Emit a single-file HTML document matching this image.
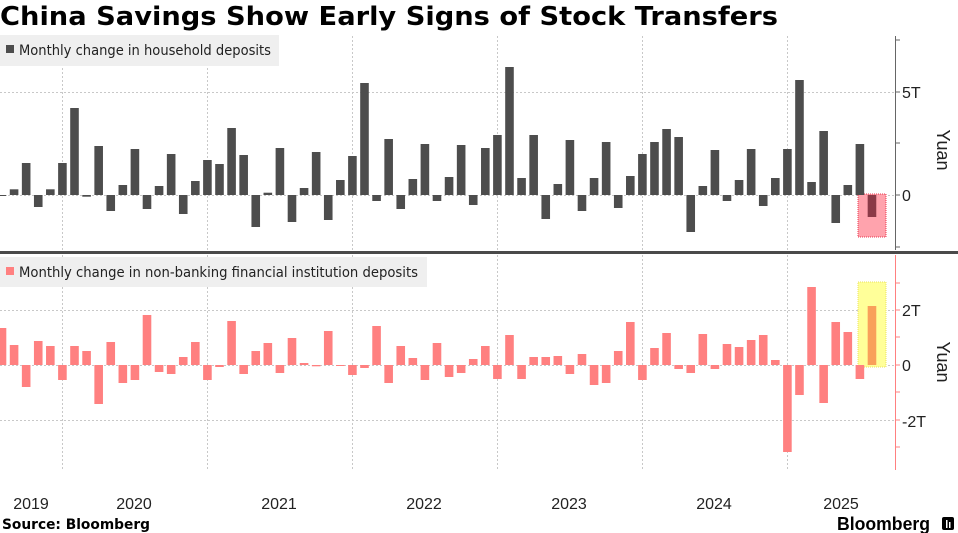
<!DOCTYPE html>
<html><head><meta charset="utf-8">
<style>
html,body{margin:0;padding:0;background:#fff;width:958px;height:533px;overflow:hidden}
svg{display:block;font-family:"Liberation Sans",sans-serif}
</style></head>
<body>
<svg id="c" width="958" height="533" viewBox="0 0 958 533" xmlns="http://www.w3.org/2000/svg">
<text x="0" y="25" font-size="26" font-weight="bold" fill="#000" font-family="DejaVu Sans, sans-serif" textLength="778" lengthAdjust="spacingAndGlyphs">China Savings Show Early Signs of Stock Transfers</text>
<g id="grid" stroke="#c8c8c8" stroke-width="1" stroke-dasharray="2,2"></g>
<g id="topg"></g>
<g id="botg"></g>
<rect x="0" y="35" width="279" height="31" fill="#efefef"/>
<rect x="6" y="45" width="8" height="8" fill="#4d4d4d"/>
<text x="19" y="55" font-size="14" fill="#222" font-family="DejaVu Sans, sans-serif" textLength="252" lengthAdjust="spacingAndGlyphs">Monthly change in household deposits</text>
<rect x="0" y="257" width="427" height="30" fill="#efefef"/>
<rect x="6" y="267" width="8" height="8" fill="#ff8080"/>
<text x="19" y="277" font-size="14" fill="#222" font-family="DejaVu Sans, sans-serif" textLength="399" lengthAdjust="spacingAndGlyphs">Monthly change in non-banking financial institution deposits</text>
<rect x="0" y="251" width="958" height="3" fill="#4a4a4a"/>
<line x1="895.5" y1="36" x2="895.5" y2="250" stroke="#666" stroke-width="1"/>
<g stroke="#666"><line x1="895" y1="92" x2="900" y2="92"/><line x1="895" y1="143" x2="900" y2="143"/><line x1="895" y1="195" x2="900" y2="195"/><line x1="895" y1="247" x2="900" y2="247"/><line x1="895" y1="40" x2="900" y2="40"/></g>
<text x="902" y="98" font-size="16" fill="#222">5T</text>
<text x="902" y="201" font-size="16" fill="#222">0</text>
<text transform="translate(937,150) rotate(90)" text-anchor="middle" font-size="18" fill="#222">Yuan</text>
<line x1="895.5" y1="255" x2="895.5" y2="470" stroke="#ff8080" stroke-width="1"/>
<g stroke="#ff8080"><line x1="895" y1="310" x2="900" y2="310"/><line x1="895" y1="365" x2="900" y2="365"/><line x1="895" y1="420" x2="900" y2="420"/><line x1="895" y1="337" x2="900" y2="337"/><line x1="895" y1="392" x2="900" y2="392"/><line x1="895" y1="283" x2="900" y2="283"/><line x1="895" y1="447" x2="900" y2="447"/></g>
<text x="902" y="316" font-size="16" fill="#222">2T</text>
<text x="902" y="371" font-size="16" fill="#222">0</text>
<text x="902" y="427" font-size="16" fill="#222">-2T</text>
<text transform="translate(937,362) rotate(90)" text-anchor="middle" font-size="18" fill="#222">Yuan</text>
<g font-size="16" fill="#222" text-anchor="middle">
<text x="31" y="509">2019</text>
<text x="134" y="509">2020</text>
<text x="279" y="509">2021</text>
<text x="424" y="509">2022</text>
<text x="569" y="509">2023</text>
<text x="714" y="509">2024</text>
<text x="841" y="509">2025</text>
</g>
<text x="2" y="529" font-size="14" font-weight="bold" fill="#000" font-family="DejaVu Sans, sans-serif" textLength="148" lengthAdjust="spacingAndGlyphs">Source: Bloomberg</text>
<text x="837" y="530" font-size="18" font-weight="bold" fill="#000" textLength="93" lengthAdjust="spacingAndGlyphs">Bloomberg</text>
<rect x="942" y="517" width="12" height="13" rx="2" fill="#000"/>
<rect x="946" y="520" width="1.5" height="8" fill="#fff"/><rect x="949" y="522" width="1.5" height="6" fill="#fff"/>
</svg>
<script>
var NS="http://www.w3.org/2000/svg";
function el(p,t,a){var e=document.createElementNS(NS,t);for(var k in a)e.setAttribute(k,a[k]);p.appendChild(e);return e;}
var g=document.getElementById('grid');
[62,207,352,497,642,787].forEach(function(x){el(g,'line',{x1:x+.5,y1:36,x2:x+.5,y2:250});el(g,'line',{x1:x+.5,y1:255,x2:x+.5,y2:470});});
[92,195].forEach(function(y){el(g,'line',{x1:0,y1:y+.5,x2:895,y2:y+.5});});
[310,365,420].forEach(function(y){el(g,'line',{x1:0,y1:y+.5,x2:895,y2:y+.5});});
var tv=[-1,5.7,32,-12,5.7,32,87,-1.7,49,-16,10,46,-14,9,41,-19,14,35,31,67,40,-32,2.3,47,-27,7,43,-25,15,39,112,-6,56,-14,16,51,-6,18,50,-10,47,60,128,17,60,-24,11,55,-16,17,53,-13,19,41,53,66,58,-37,9,45,-6,15,46,-11,17,46,115,13,64,-28,10,51,-22];
var bv=[37,20,-22,24,19,-15,19,14,-39,23,-18,-15,50,-7,-9,8,23,-15,-2,44,-9,14,22,-8,27,2,-1.3,34,-0.5,-10,-3,39,-18,19,7,-15,22,-12,-8,6,19,-14,30,-14,8,8,9,-9,11,-20,-18,14,43,-15,17,32,-4,-8,31,-4,21,18,25,30,5,-87,-30,78,-38,43,33,-14,59];
var tg=document.getElementById('topg'),bg=document.getElementById('botg');
el(tg,'rect',{x:858,y:194,width:28,height:43,fill:'#ffa3ad',stroke:'#e8394f','stroke-width':1,'stroke-dasharray':'1,1'});
el(bg,'rect',{x:858,y:282,width:28,height:85,fill:'#ffff99',stroke:'#e8e060','stroke-width':1,'stroke-dasharray':'1,1'});
for(var i=0;i<73;i++){
 var cx=2+12.083*i, x=cx-4.3, w=8.6;
 var v=tv[i];
 el(tg,'rect',{x:x,y:v>0?195-v:195,width:w,height:Math.max(Math.abs(v),1),fill:i==72?'#8b3a47':'#4d4d4d'});
 v=bv[i];
 el(bg,'rect',{x:x,y:v>0?365-v:365,width:w,height:Math.max(Math.abs(v),1),fill:i==72?'#f9a05a':'#ff8080'});
}
</script>
</body></html>
